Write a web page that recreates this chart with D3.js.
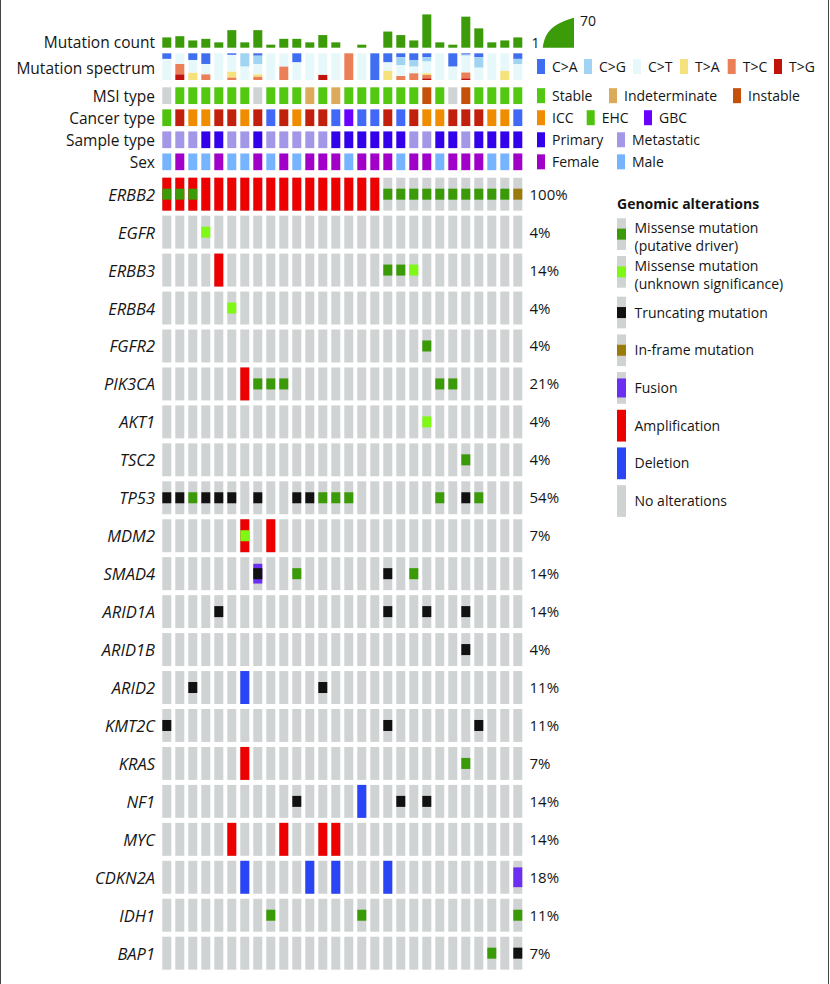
<!DOCTYPE html>
<html><head><meta charset="utf-8">
<script src="https://cdn.jsdelivr.net/npm/d3@7"></script>
<style>
body{margin:0;background:#fff}
svg{display:block}
text{font-family:"Open Sans",sans-serif;fill:#151515}
</style>
</head><body>
<svg id="chart" width="830" height="984"></svg>
<script>
// ---------------- DATA ----------------
const samples = d3.range(1, 29).map(i => "S" + i);
const mutationCount = [6,7,4,5,3,14,3,14,2,5,5,3,8,3,1,2,1,12,8,4,70,3,2,56,17,3,4,6];
const countRange = [1, 70];

const spectrumClasses = ["C>A","C>G","C>T","T>A","T>C","T>G"];
const spectrumCA = [21,0,25,40,0,6,0,9,0,0,34,0,0,0,0,0,100,34,15,25,15,0,50,5,15,0,0,21];
const spectrumCG = [0,0,0,0,0,0,50,31,0,0,0,0,0,0,0,0,0,0,29,25,16,0,0,4,39,0,0,19];
const spectrumCT = [79,40,48,39,100,63,50,39,100,50,66,100,81,100,0,100,0,32,41,25,44,100,50,63,46,100,66,60];
const spectrumTA = [0,0,27,0,0,22,0,9,0,0,0,0,0,0,0,0,0,34,0,0,6,0,0,0,0,0,34,0];
const spectrumTC = [0,39,0,21,0,9,0,12,0,50,0,0,0,0,100,0,0,0,15,25,13,0,0,22,0,0,0,0];
const spectrumTG = [0,21,0,0,0,0,0,0,0,0,0,0,19,0,0,0,0,0,0,0,6,0,0,6,0,0,0,0];

const msiCategories = ["Stable","Indeterminate","Instable"];
const msiType = ["NA","Stable","Stable","Stable","Stable","Stable","Stable","NA","Stable","Stable","Stable","Indeterminate","Stable","Indeterminate","Stable","Stable","Stable","Stable","Stable","Stable","Instable","Stable","NA","Instable","Stable","Stable","Stable","Stable"];

const cancerCategories = ["ICC","EHC","GBC"];
const cancerType = ["EHC","CHOL","ICC","ICC","CHOL","CHOL","ICC","CHOL","BTC","CHOL","ICC","CHOL","CHOL","BTC","GBC","BTC","BTC","CHOL","BTC","CHOL","ICC","ICC","CHOL","CHOL","CHOL","ICC","ICC","BTC"];

const sampleCategories = ["Primary","Metastatic"];
const sampleType = ["Metastatic","Metastatic","Metastatic","Primary","Primary","Metastatic","Metastatic","Primary","Metastatic","Metastatic","Metastatic","Metastatic","Metastatic","Primary","Primary","Primary","Primary","Primary","Primary","Metastatic","Metastatic","Primary","Primary","Metastatic","Primary","Primary","Primary","Primary"];

const sexCategories = ["Female","Male"];
const sex = ["Male","Female","Male","Male","Female","Male","Male","Female","Male","Female","Male","Female","Female","Female","Male","Female","Female","Female","Male","Female","Female","Male","Female","Female","Female","Male","Male","Female"];

const genes = ["ERBB2","EGFR","ERBB3","ERBB4","FGFR2","PIK3CA","AKT1","TSC2","TP53","MDM2","SMAD4","ARID1A","ARID1B","ARID2","KMT2C","KRAS","NF1","MYC","CDKN2A","IDH1","BAP1"];

// sample numbers (1-based) carrying each alteration type
const amplification = {ERBB2:[1,2,3,4,5,6,7,8,9,10,11,12,13,14,15,16,17], ERBB3:[5], PIK3CA:[7], MDM2:[7,9], KRAS:[7], MYC:[6,10,13,14]};
const deletion = {ARID2:[7], NF1:[16], CDKN2A:[7,12,14,18]};
const fusion = {SMAD4:[8], CDKN2A:[28]};
const missenseDriver = {ERBB2:[1,2,3,18,19,20,21,22,23,24,25,26,27], ERBB3:[18,19], FGFR2:[21], PIK3CA:[8,9,10,22,23], TSC2:[24], TP53:[3,13,14,15,22,25], SMAD4:[11,20], KRAS:[24], IDH1:[9,16,28], BAP1:[26]};
const missenseVUS = {EGFR:[4], ERBB3:[20], ERBB4:[6], AKT1:[21], MDM2:[7]};
const truncating = {TP53:[1,2,4,5,6,8,11,12,24], SMAD4:[8,18], ARID1A:[5,18,21,24], ARID1B:[24], ARID2:[3,13], KMT2C:[1,18,25], NF1:[11,19,21], BAP1:[28]};
const inframe = {ERBB2:[28]};

// ---------------- STYLE ----------------
const C = {
  grey:"#cfd3d3", driver:"#3a9a07", vus:"#7ff816", trunc:"#111111", inframe:"#9a7a0b",
  fusion:"#6a2ff0", amp:"#ec0000", del:"#2a45f6", count:"#3b9b08"
};
const spectrumColor = d3.scaleOrdinal().domain(spectrumClasses)
  .range(["#3f6ff0","#a0d4f2","#e7f8fa","#f5e27c","#eb8058","#c0130c"]);
const msiColor = d3.scaleOrdinal().domain(["Stable","Indeterminate","Instable","NA"])
  .range(["#52c811","#dcab5a","#c4500a","#cfd3d3"]);
const cancerColor = d3.scaleOrdinal().domain(["ICC","EHC","GBC","CHOL","BTC"])
  .range(["#f08c00","#4ec20c","#6a00ff","#c0200c","#4168f6"]);
const sampleColor = d3.scaleOrdinal().domain(sampleCategories).range(["#3200ea","#a397e8"]);
const sexColor = d3.scaleOrdinal().domain(sexCategories).range(["#a000c8","#76b4ff"]);

// ---------------- DRAW ----------------
const svg = d3.select("#chart");
svg.append("line").attr("x1",0.5).attr("x2",0.5).attr("y1",0).attr("y2",984).attr("stroke","#444");
svg.append("line").attr("x1",828.5).attr("x2",828.5).attr("y1",0).attr("y2",984).attr("stroke","#444");

const x = d3.scaleBand().domain(samples).range([160.3, 524.3]).paddingInner(4/13).paddingOuter(2/13);
const bw = x.bandwidth();
const labelX = 155;

// Mutation count (log scale)
const countBase = 47.7;
const hCount = d3.scaleLog().domain([countRange[0] + 2, countRange[1] + 2]).range([0, 33.3]);
svg.append("g").selectAll("rect").data(samples).join("rect")
  .attr("x", d => x(d)).attr("width", bw)
  .attr("y", (d,i) => countBase - hCount(mutationCount[i] + 2))
  .attr("height", (d,i) => hCount(mutationCount[i] + 2))
  .attr("fill", C.count);
svg.append("text").attr("x", labelX).attr("y", 47.5).attr("text-anchor","end")
  .style("font-size","15.5px").text("Mutation count");
// count legend
const legCountX = d3.scaleLinear().domain(countRange).range([542.7, 574]);
const legCountH = d3.scaleLog().domain([countRange[0] + 2, countRange[1] + 2]).range([0, 30]);
const curvePts = d3.range(countRange[0], countRange[1] + 0.01, 0.25).map(c => [legCountX(c), countBase - legCountH(c + 2)]);
curvePts.push([legCountX(countRange[1]), countBase]);
svg.append("path").attr("d", d3.line()(curvePts) + "Z").attr("fill", C.count);
svg.append("text").attr("x", 531.5).attr("y", 48).style("font-size","14px").text(countRange[0]);
svg.append("text").attr("x", 580).attr("y", 26).style("font-size","14px").text(countRange[1]);

// Mutation spectrum (stacked, normalised)
const specRows = samples.map((s,i) => ({sample:s, "C>A":spectrumCA[i], "C>G":spectrumCG[i], "C>T":spectrumCT[i], "T>A":spectrumTA[i], "T>C":spectrumTC[i], "T>G":spectrumTG[i]}));
const stack = d3.stack().keys(spectrumClasses).offset(d3.stackOffsetExpand)(specRows);
const ySpec = d3.scaleLinear().domain([0,1]).range([53.3, 80]);
svg.append("g").selectAll("g").data(stack).join("g").attr("fill", d => spectrumColor(d.key))
  .selectAll("rect").data(d => d).join("rect")
  .attr("x", d => x(d.data.sample)).attr("width", bw)
  .attr("y", d => ySpec(d[0])).attr("height", d => Math.max(0, ySpec(d[1]) - ySpec(d[0])));
svg.append("text").attr("x", labelX).attr("y", 74).attr("text-anchor","end")
  .style("font-size","15.5px").text("Mutation spectrum");

function swatchLegend(items, xs, cy, colorFn) {
  items.forEach((it, j) => {
    svg.append("rect").attr("x", xs[j]).attr("y", cy - 7.5).attr("width", 8).attr("height", 15).attr("fill", colorFn(it));
    svg.append("text").attr("x", xs[j] + 15).attr("y", cy + 5).style("font-size","14px").text(it);
  });
}
swatchLegend(spectrumClasses, [537, 584, 633, 680, 727.7, 774], 66.5, spectrumColor);

// Categorical tracks
const tracks = [
  {name:"MSI type", values:msiType, color:msiColor, legend:msiCategories, lx:[537,609,733]},
  {name:"Cancer type", values:cancerType, color:cancerColor, legend:cancerCategories, lx:[537,586.7,644]},
  {name:"Sample type", values:sampleType, color:sampleColor, legend:sampleCategories, lx:[537,617]},
  {name:"Sex", values:sex, color:sexColor, legend:sexCategories, lx:[537,617]}
];
const yTrack = d3.scaleBand().domain(tracks.map(t => t.name)).range([84.95, 84.95 + 4*21.9]).paddingInner(5.3/21.9).paddingOuter(2.35/21.9);
tracks.forEach(t => {
  const ty = yTrack(t.name), th = yTrack.bandwidth();
  svg.append("g").selectAll("rect").data(samples).join("rect")
    .attr("x", d => x(d)).attr("width", bw).attr("y", ty).attr("height", th)
    .attr("fill", (d,i) => t.color(t.values[i]));
  svg.append("text").attr("x", labelX).attr("y", ty + th/2 + 6).attr("text-anchor","end")
    .style("font-size","15.5px").text(t.name);
  swatchLegend(t.legend, t.lx, ty + th/2, t.color);
});

// Gene rows
const yGene = d3.scaleBand().domain(genes).range([175.2, 175.2 + genes.length*37.95]).paddingInner(5/37.95).paddingOuter(2.5/37.95);
const gh = yGene.bandwidth();
const layers = [
  {data:amplification, type:"amp"}, {data:deletion, type:"del"}, {data:fusion, type:"fusion"},
  {data:missenseDriver, type:"driver"}, {data:missenseVUS, type:"vus"},
  {data:truncating, type:"trunc"}, {data:inframe, type:"inframe"}
];
function glyph(g, type, gx, gy, w, h) {
  if (type === "amp" || type === "del") {
    g.append("rect").attr("x", gx).attr("y", gy).attr("width", w).attr("height", h).attr("fill", C[type]);
  } else if (type === "fusion") {
    g.append("rect").attr("x", gx).attr("y", gy + h*0.2).attr("width", w).attr("height", h*0.6).attr("fill", C.fusion);
  } else if (type) {
    g.append("rect").attr("x", gx).attr("y", gy + h/2 - 5.5).attr("width", w).attr("height", 11).attr("fill", C[type]);
  }
}
const gRows = svg.append("g");
genes.forEach(gene => {
  const gy = yGene(gene);
  gRows.append("g").selectAll("rect").data(samples).join("rect")
    .attr("x", d => x(d)).attr("width", bw).attr("y", gy).attr("height", gh).attr("fill", C.grey);
  const altered = new Set();
  layers.forEach(L => (L.data[gene] || []).forEach(n => {
    altered.add(n);
    glyph(gRows, L.type, x(samples[n-1]), gy, bw, gh);
  }));
  svg.append("text").attr("x", labelX).attr("y", gy + gh/2 + 6.5).attr("text-anchor","end")
    .style("font-size","16.5px").style("font-style","italic").text(gene);
  svg.append("text").attr("x", 529.5).attr("y", gy + gh/2 + 5.5)
    .style("font-size","15px").text(Math.round(altered.size / samples.length * 100) + "%");
});

// Genomic alterations legend
const legendItems = [
  {label:["Missense mutation","(putative driver)"], type:"driver"},
  {label:["Missense mutation","(unknown significance)"], type:"vus"},
  {label:["Truncating mutation"], type:"trunc"},
  {label:["In-frame mutation"], type:"inframe"},
  {label:["Fusion"], type:"fusion"},
  {label:["Amplification"], type:"amp"},
  {label:["Deletion"], type:"del"},
  {label:["No alterations"], type:null}
];
svg.append("text").attr("x", 617).attr("y", 209).style("font-size","14px").style("font-weight","bold").text("Genomic alterations");
const lg = svg.append("g");
legendItems.forEach((it, i) => {
  const top = 218.3 + i*37.7 + (i >= 2 ? 3 : 0), h = 31.7;
  lg.append("rect").attr("x", 617).attr("y", top).attr("width", 9).attr("height", h).attr("fill", C.grey);
  glyph(lg, it.type, 617, top, 9, h);
  if (it.label.length === 2) {
    lg.append("text").attr("x", 634.5).attr("y", top + 15).style("font-size","14px").text(it.label[0]);
    lg.append("text").attr("x", 634.5).attr("y", top + 32.5).style("font-size","14px").text(it.label[1]);
  } else {
    lg.append("text").attr("x", 634.5).attr("y", top + h/2 + 5).style("font-size","14px").text(it.label[0]);
  }
});
</script>
</body></html>
